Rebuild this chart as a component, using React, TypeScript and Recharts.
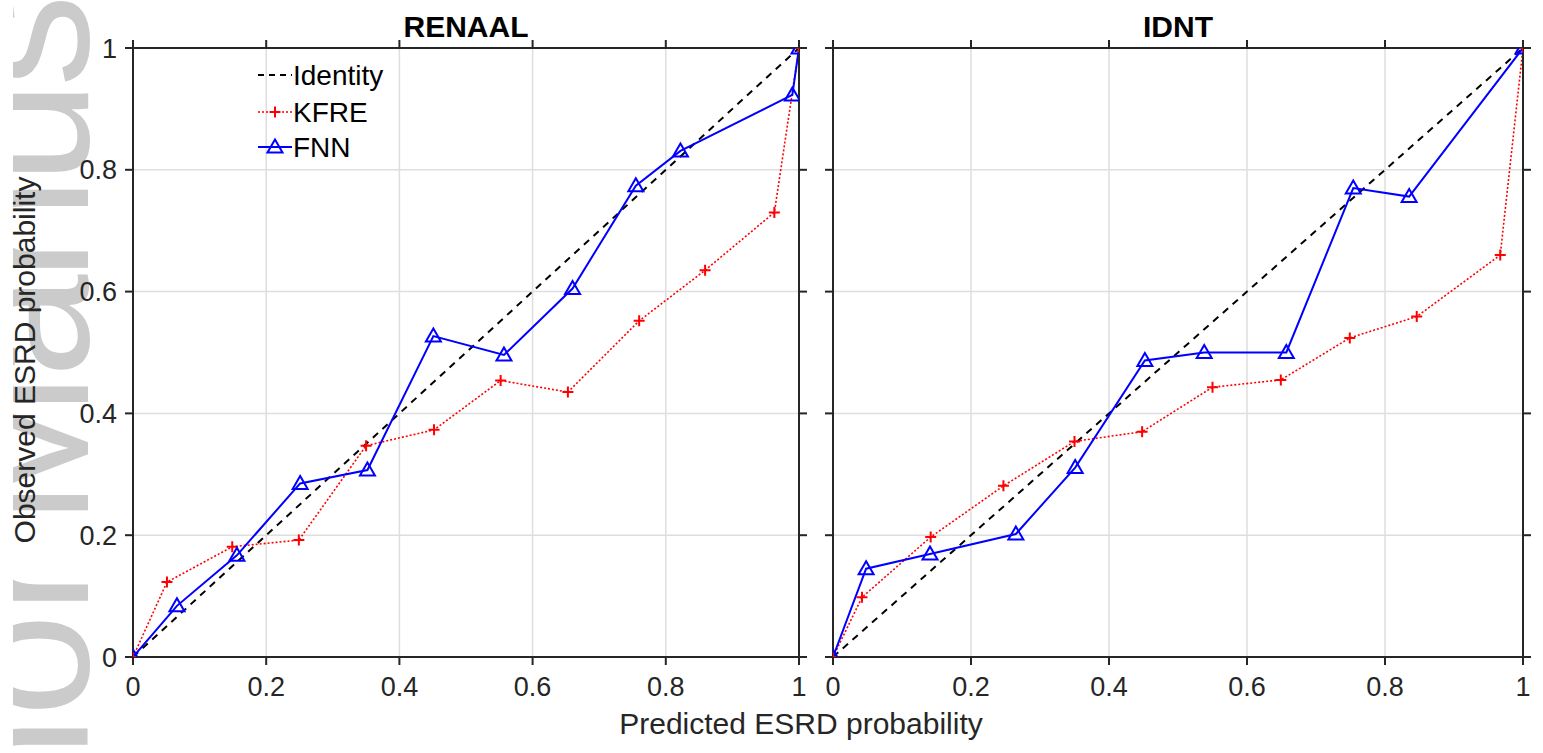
import React from 'react';
import { LineChart, Line, XAxis, YAxis, CartesianGrid, Legend } from 'recharts';

const TICKS = [0, 0.2, 0.4, 0.6, 0.8, 1];
const TICK_LABELS = ['0', '0.2', '0.4', '0.6', '0.8', '1'];

const identityX = [0, 1];
const identityY = [0, 1];

const renaalKfreX = [0, 0.051, 0.149, 0.249, 0.35, 0.452, 0.552, 0.653, 0.76, 0.859, 0.963, 1];
const renaalKfreY = [0, 0.123, 0.181, 0.192, 0.347, 0.373, 0.454, 0.435, 0.552, 0.635, 0.73, 1];
const renaalFnnX = [0, 0.066, 0.156, 0.251, 0.352, 0.451, 0.557, 0.66, 0.755, 0.822, 0.99, 1];
const renaalFnnY = [0, 0.084, 0.167, 0.285, 0.307, 0.527, 0.496, 0.605, 0.774, 0.831, 0.923, 1];

const idntKfreX = [0, 0.042, 0.1416, 0.247, 0.35, 0.448, 0.55, 0.649, 0.749, 0.846, 0.967, 1];
const idntKfreY = [0, 0.098, 0.197, 0.281, 0.354, 0.37, 0.443, 0.455, 0.524, 0.559, 0.66, 1];
const idntFnnX = [0, 0.048, 0.1406, 0.265, 0.351, 0.452, 0.538, 0.657, 0.754, 0.835, 1];
const idntFnnY = [0, 0.145, 0.169, 0.202, 0.311, 0.487, 0.5, 0.5, 0.77, 0.756, 1];

const zip = (xs: number[], ys: number[]) => xs.map((x, i) => ({ x, y: ys[i] }));

const FONT = "'Liberation Sans', Arial, Helvetica, sans-serif";
const AX = '#262626';
const GRID = '#dedede';
const RED = '#ff0000';
const BLUE = '#0000ff';
const TS = 8; // tick length

const fmt = (v: number) => {
  const i = TICKS.findIndex((t) => Math.abs(t - v) < 1e-9);
  return i >= 0 ? TICK_LABELS[i] : String(v);
};

type Side = 'bottom' | 'top' | 'left' | 'right';

const makeTick = (side: Side, margin: number, showLabel: boolean) => (props: any) => {
  const { x, y, payload, index } = props;
  const v = payload?.value;
  let line: [number, number, number, number];
  if (side === 'bottom') line = [x, y - margin - TS, x, y - margin];
  else if (side === 'top') line = [x, y + margin, x, y + margin + TS];
  else if (side === 'left') line = [x + margin, y, x + margin + TS, y];
  else line = [x - margin - TS, y, x - margin, y];
  return (
    <g key={side + index}>
      <line x1={line[0]} y1={line[1]} x2={line[2]} y2={line[3]} stroke={AX} strokeWidth={2} />
      {showLabel && (
        <text
          x={x}
          y={y}
          dy={side === 'bottom' ? '0.71em' : '0.355em'}
          textAnchor={side === 'bottom' ? 'middle' : 'end'}
          fill={AX}
          fontSize={27}
          fontFamily={FONT}
        >
          {fmt(v)}
        </text>
      )}
    </g>
  );
};

const plusDot = (props: any) => {
  const { cx, cy, index } = props;
  if (cx == null || cy == null) return <g key={'p' + index} />;
  return (
    <path
      key={'p' + index}
      d={`M${cx - 5.5},${cy}H${cx + 5.5}M${cx},${cy - 5.5}V${cy + 5.5}`}
      stroke={RED}
      strokeWidth={2}
      fill="none"
    />
  );
};

const triDot = (props: any) => {
  const { cx, cy, index } = props;
  if (cx == null || cy == null) return <g key={'t' + index} />;
  return (
    <path
      key={'t' + index}
      d={`M${cx},${cy - 7.5}L${cx + 7.5},${cy + 5.5}L${cx - 7.5},${cy + 5.5}Z`}
      stroke={BLUE}
      strokeWidth={2}
      fill="none"
    />
  );
};

const LegendBox = () => (
  <svg width={170} height={120} style={{ display: 'block' }}>
    <g fontFamily={FONT} fontSize={28} fill="#000">
      <line x1={18} y1={25} x2={52} y2={25} stroke="#000" strokeWidth={2} strokeDasharray="6 5" />
      <text x={53} y={35}>Identity</text>
      <line x1={18} y1={62} x2={52} y2={62} stroke={RED} strokeWidth={1.6} strokeDasharray="2 2" />
      <path d="M29.5,62H40.5M35,56.5V67.5" stroke={RED} strokeWidth={2} fill="none" />
      <text x={53} y={72}>KFRE</text>
      <line x1={18} y1={97} x2={52} y2={97} stroke={BLUE} strokeWidth={2} />
      <path d="M35,89.5L42.5,102.5L27.5,102.5Z" stroke={BLUE} strokeWidth={2} fill="none" />
      <text x={53} y={107}>FNN</text>
    </g>
  </svg>
);

type PanelProps = {
  width: number;
  margin: { top: number; left: number; right: number; bottom: number };
  leftWidth: number;
  showYLabels: boolean;
  kfre: { x: number; y: number }[];
  fnn: { x: number; y: number }[];
  showLegend: boolean;
};

const Panel = ({ width, margin, leftWidth, showYLabels, kfre, fnn, showLegend }: PanelProps) => {
  const axisLine = { stroke: AX, strokeWidth: 2 };
  const leftMargin = showYLabels ? 8 : 0;
  return (
    <LineChart width={width} height={753} margin={margin}>
      <CartesianGrid xAxisId="b" yAxisId="l" stroke={GRID} strokeWidth={1.5} />
      <XAxis
        xAxisId="b"
        type="number"
        dataKey="x"
        domain={[0, 1]}
        ticks={TICKS}
        interval={0}
        tickSize={TS}
        tickMargin={12}
        height={40}
        axisLine={axisLine}
        tickLine={false}
        tick={makeTick('bottom', 12, true)}
        allowDataOverflow
      />
      <XAxis
        xAxisId="t"
        orientation="top"
        type="number"
        dataKey="x"
        domain={[0, 1]}
        ticks={TICKS}
        interval={0}
        tickSize={TS}
        tickMargin={0}
        height={10}
        axisLine={axisLine}
        tickLine={false}
        tick={makeTick('top', 0, false)}
        allowDataOverflow
      />
      <YAxis
        yAxisId="l"
        type="number"
        domain={[0, 1]}
        ticks={TICKS}
        interval={0}
        tickSize={TS}
        tickMargin={leftMargin}
        width={leftWidth}
        axisLine={axisLine}
        tickLine={false}
        tick={makeTick('left', leftMargin, showYLabels)}
        allowDataOverflow
      />
      <YAxis
        yAxisId="r"
        orientation="right"
        type="number"
        domain={[0, 1]}
        ticks={TICKS}
        interval={0}
        tickSize={TS}
        tickMargin={0}
        width={10}
        axisLine={axisLine}
        tickLine={false}
        tick={makeTick('right', 0, false)}
        allowDataOverflow
      />
      <Line
        xAxisId="b"
        yAxisId="l"
        data={zip(identityX, identityY)}
        dataKey="y"
        type="linear"
        stroke="#000"
        strokeWidth={2}
        strokeDasharray="7 6"
        dot={false}
        activeDot={false}
        isAnimationActive={false}
        legendType="none"
      />
      <Line
        xAxisId="b"
        yAxisId="l"
        data={kfre}
        dataKey="y"
        type="linear"
        stroke={RED}
        strokeWidth={1.6}
        strokeDasharray="2 2"
        dot={plusDot}
        activeDot={false}
        isAnimationActive={false}
        legendType="none"
      />
      <Line
        xAxisId="b"
        yAxisId="l"
        data={fnn}
        dataKey="y"
        type="linear"
        stroke={BLUE}
        strokeWidth={2}
        dot={triDot}
        activeDot={false}
        isAnimationActive={false}
        legendType="none"
      />
      {showLegend && (
        <Legend
          layout="vertical"
          align="center"
          verticalAlign="middle"
          content={() => <LegendBox />}
          wrapperStyle={{ position: 'absolute', left: 240, top: 50, width: 170, height: 120 }}
        />
      )}
    </LineChart>
  );
};

export default function App() {
  return (
    <div
      style={{
        position: 'absolute',
        left: 0,
        top: 0,
        width: 1543,
        height: 753,
        background: '#fff',
        overflow: 'hidden',
      }}
    >
      <svg style={{ position: 'absolute', left: 0, top: 0 }} width={1543} height={753}>
        <defs>
          <clipPath id="wmclip">
            <rect x={13} y={0} width={90} height={753} />
          </clipPath>
        </defs>
        <g clipPath="url(#wmclip)">
          <text
            transform="translate(88,1097) rotate(-90)"
            fontFamily={FONT}
            fontSize={185}
            fill="#cbcbcb"
          >
            <tspan>Author </tspan>
            <tspan dx={-25} letterSpacing={-6}>
              Manuscript
            </tspan>
          </text>
        </g>
        <text
          transform="translate(35,360) rotate(-90)"
          textAnchor="middle"
          fontFamily={FONT}
          fontSize={30}
          fill={AX}
        >
          Observed ESRD probability
        </text>
        <text x={801} y={734} textAnchor="middle" fontFamily={FONT} fontSize={30} fill={AX}>
          Predicted ESRD probability
        </text>
        <text x={466} y={37} textAnchor="middle" fontFamily={FONT} fontSize={30} fontWeight="bold" fill="#000">
          RENAAL
        </text>
        <text x={1178} y={37} textAnchor="middle" fontFamily={FONT} fontSize={30} fontWeight="bold" fill="#000">
          IDNT
        </text>
      </svg>
      <div style={{ position: 'absolute', left: 0, top: 0 }}>
        <Panel
          width={820}
          margin={{ top: 38, left: 73, right: 11, bottom: 56 }}
          leftWidth={60}
          showYLabels={true}
          kfre={zip(renaalKfreX, renaalKfreY)}
          fnn={zip(renaalFnnX, renaalFnnY)}
          showLegend={true}
        />
      </div>
      <div style={{ position: 'absolute', left: 820, top: 0 }}>
        <Panel
          width={723}
          margin={{ top: 38, left: 3, right: 10, bottom: 56 }}
          leftWidth={10}
          showYLabels={false}
          kfre={zip(idntKfreX, idntKfreY)}
          fnn={zip(idntFnnX, idntFnnY)}
          showLegend={false}
        />
      </div>
    </div>
  );
}
